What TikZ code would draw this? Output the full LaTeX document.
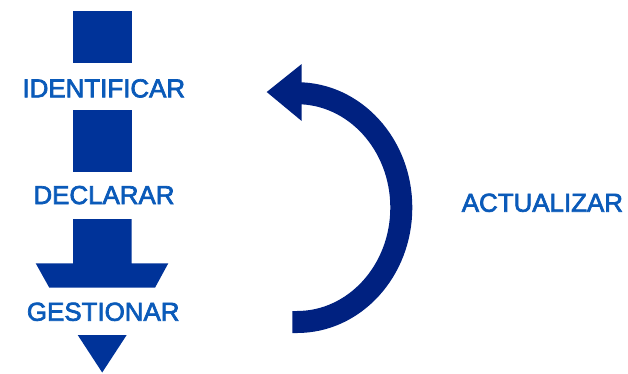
\documentclass[tikz,border=0pt]{standalone}
\usepackage{fontspec}
\setmainfont{Liberation Sans}
\newcommand{\heavytext}[1]{\special{pdf:literal direct 2 Tr 0.7 w}#1\special{pdf:literal direct 0 Tr}}
\definecolor{mainblue}{RGB}{0,51,153}
\definecolor{arcblue}{RGB}{0,33,128}
\definecolor{txtblue}{RGB}{10,90,185}
\tikzset{
  lbl/.style={anchor=base, text=txtblue, inner sep=0pt, font=\fontsize{25.9}{28}\selectfont},
  blk/.style={fill=mainblue, draw=none}
}
\begin{document}
\begin{tikzpicture}[x=1pt,y=-1pt]
\useasboundingbox (0,0) rectangle (628,373);
% vertical broken arrow
\fill[blk] (73,11.3) rectangle (131.7,62.7);
\fill[blk] (73,110) rectangle (131.7,171.7);
\fill[blk] (73,219) -- (131.7,219) -- (131.7,263.3) -- (168.3,263.3) -- (155,287.7)
  -- (49.3,287.7) -- (35.7,263.3) -- (73,263.3) -- cycle;
\fill[blk] (77.7,335) -- (126.7,335) -- (102.2,372.5) -- cycle;
% labels
\node[lbl] (ident) at (103.8,97.3) {\heavytext{IDENTIFICAR}};
\node[lbl] (decl) at (104,204) {\heavytext{DECLARAR}};
\node[lbl] (gest) at (103.2,320.7) {\heavytext{GESTIONAR}};
\node[lbl] (act) at (542.4,211.7) {\heavytext{ACTUALIZAR}};
% curved arrow
\coordinate (cstart) at (292.3,322);
\coordinate (cend) at (302.5,93.3);
\draw[arcblue, line width=22] (cstart) -- (297,322)
  arc[start angle=90, end angle=-90, x radius=104.3, y radius=114.4] -- (cend);
\fill[arcblue] (301.7,64) -- (266.7,92) -- (301.7,121) -- cycle;
\end{tikzpicture}
\end{document}
